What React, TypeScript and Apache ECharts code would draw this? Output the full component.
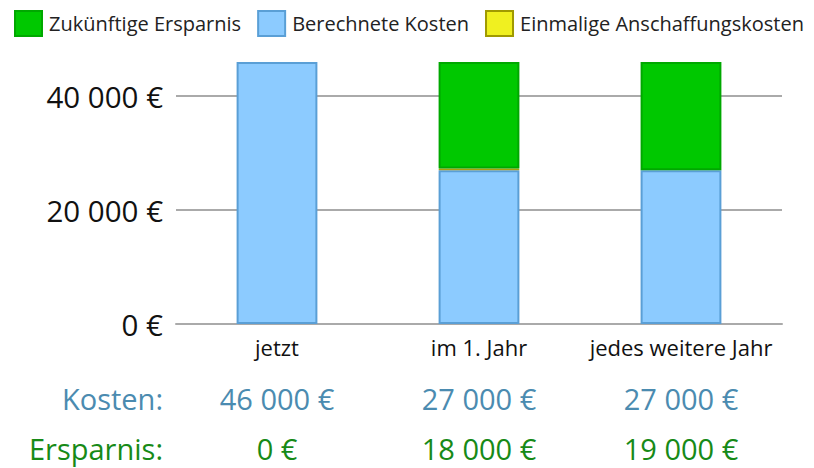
import React, { useEffect, useRef } from "react";
import * as echarts from "echarts";

const categories = ["jetzt", "im 1. Jahr", "jedes weitere Jahr"];
const kostenValues = [46000, 27000, 27000];
const anschaffungValues = [0, 300, 0];
const ersparnisValues = [0, 18700, 19000];
const kostenLabels = ["46 000 €", "27 000 €", "27 000 €"];
const ersparnisLabels = ["0 €", "18 000 €", "19 000 €"];
const FONT = "'Open Sans', sans-serif";

const fmt = (v: number) => (v === 0 ? "0 €" : String(v).replace(/\B(?=(\d{3})+(?!\d))/g, " ") + " €");
const noZero = (arr: number[]) => arr.map((v) => (v === 0 ? null : v));

export default function App() {
  const ref = useRef<HTMLDivElement>(null);
  useEffect(() => {
    if (!ref.current) return;
    const chart = echarts.init(ref.current, null, { renderer: "svg" });
    chart.setOption({
      animation: false,
      textStyle: { fontFamily: FONT },
      legend: {
        left: 9,
        top: 5,
        icon: "rect",
        itemWidth: 27,
        itemHeight: 25,
        itemGap: 16,
        itemStyle: { borderWidth: 2 },
        textStyle: { fontSize: 20, color: "#222", fontFamily: FONT, padding: [0, 0, 0, 2] },
        data: ["Zukünftige Ersparnis", "Berechnete Kosten", "Einmalige Anschaffungskosten"],
      },
      grid: { left: 176, right: 32, top: 62, bottom: 144 },
      xAxis: {
        type: "category",
        data: categories,
        axisLine: { lineStyle: { color: "#aaa", width: 2 } },
        axisTick: { show: false },
        axisLabel: { fontSize: 22, color: "#111", margin: 12, interval: 0, fontFamily: FONT },
      },
      yAxis: {
        type: "value",
        min: 0,
        max: 46000,
        interval: 20000,
        axisLine: { show: false },
        axisTick: { show: false },
        splitLine: { lineStyle: { color: "#aaa", width: 2 }, showMaxLine: false },
        axisLabel: { fontSize: 29.5, color: "#111", margin: 13, showMaxLabel: false, formatter: fmt, fontFamily: FONT },
      },
      series: [
        {
          name: "Berechnete Kosten",
          type: "bar",
          stack: "s",
          barWidth: "40%",
          data: noZero(kostenValues),
          itemStyle: { color: "#8ccbff", borderColor: "#5a9fd6", borderWidth: 2 },
        },
        {
          name: "Einmalige Anschaffungskosten",
          type: "bar",
          stack: "s",
          data: noZero(anschaffungValues),
          itemStyle: { color: "#f0f020", borderColor: "#a09a00", borderWidth: 1 },
        },
        {
          name: "Zukünftige Ersparnis",
          type: "bar",
          stack: "s",
          data: noZero(ersparnisValues),
          itemStyle: { color: "#00c800", borderColor: "#00a800", borderWidth: 2 },
        },
      ],
    });
    const graphics: any[] = [
      { type: "text", x: 163, y: 398, style: { text: "Kosten:", fontSize: 29, fill: "#4b8bb0", align: "right", verticalAlign: "middle", fontFamily: FONT } },
      { type: "text", x: 163, y: 448, style: { text: "Ersparnis:", fontSize: 29, fill: "#178a17", align: "right", verticalAlign: "middle", fontFamily: FONT } },
    ];
    categories.forEach((c, i) => {
      const x = chart.convertToPixel({ xAxisIndex: 0 }, c) as number;
      graphics.push({ type: "text", x, y: 398, style: { text: kostenLabels[i], fontSize: 29, fill: "#4b8bb0", align: "center", verticalAlign: "middle", fontFamily: FONT } });
      graphics.push({ type: "text", x, y: 448, style: { text: ersparnisLabels[i], fontSize: 29, fill: "#178a17", align: "center", verticalAlign: "middle", fontFamily: FONT } });
    });
    chart.setOption({ graphic: graphics });
    return () => chart.dispose();
  }, []);
  return <div ref={ref} style={{ position: "absolute", left: 0, top: 0, width: 814, height: 468 }} />;
}
